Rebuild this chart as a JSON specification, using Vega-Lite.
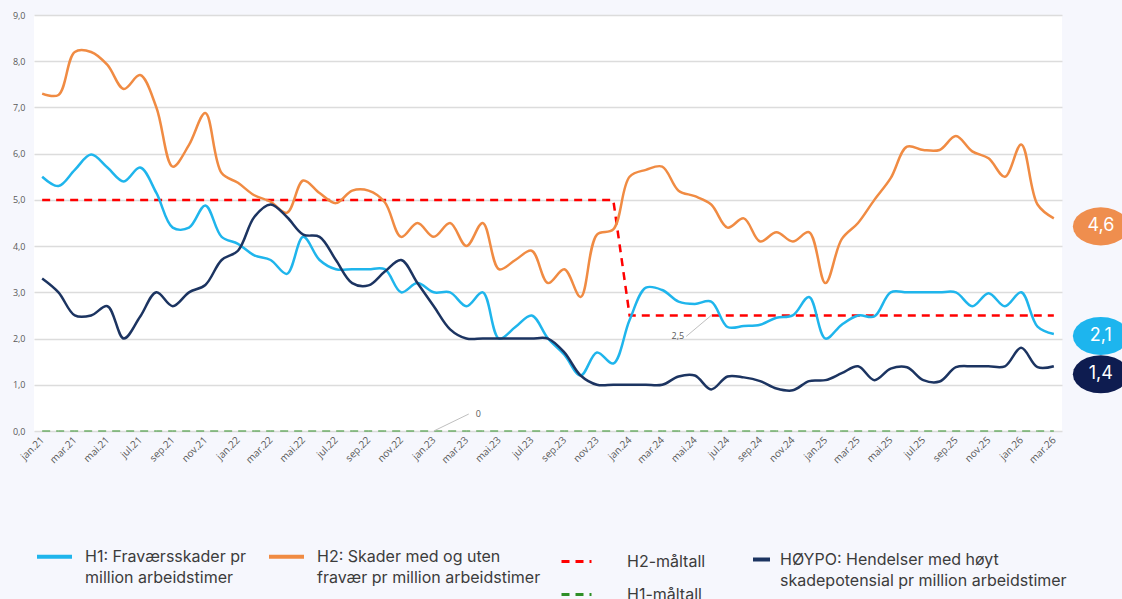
{
  "$schema": "https://vega.github.io/schema/vega-lite/v6.json",
  "width": 1028,
  "height": 416,
  "autosize": {"type": "none"},
  "padding": {"left": 34, "top": 15, "right": 60, "bottom": 168},
  "background": "#f6f7fd",
  "data": {"values": [
    {"m":"jan.21","H1":5.5,"H2":7.3,"HY":3.3,"H2m":5,"H1m":0},
    {"m":"feb.21","H1":5.3,"H2":7.27,"HY":3.0,"H2m":5,"H1m":0},
    {"m":"mar.21","H1":5.65,"H2":8.2,"HY":2.5,"H2m":5,"H1m":0},
    {"m":"apr.21","H1":5.98,"H2":8.2,"HY":2.5,"H2m":5,"H1m":0},
    {"m":"mai.21","H1":5.7,"H2":7.92,"HY":2.7,"H2m":5,"H1m":0},
    {"m":"jun.21","H1":5.4,"H2":7.4,"HY":2.0,"H2m":5,"H1m":0},
    {"m":"jul.21","H1":5.7,"H2":7.7,"HY":2.47,"H2m":5,"H1m":0},
    {"m":"aug.21","H1":5.15,"H2":7.0,"HY":3.0,"H2m":5,"H1m":0},
    {"m":"sep.21","H1":4.4,"H2":5.72,"HY":2.7,"H2m":5,"H1m":0},
    {"m":"okt.21","H1":4.4,"H2":6.19,"HY":3.0,"H2m":5,"H1m":0},
    {"m":"nov.21","H1":4.88,"H2":6.88,"HY":3.16,"H2m":5,"H1m":0},
    {"m":"des.21","H1":4.2,"H2":5.58,"HY":3.7,"H2m":5,"H1m":0},
    {"m":"jan.22","H1":4.05,"H2":5.37,"HY":3.9,"H2m":5,"H1m":0},
    {"m":"feb.22","H1":3.8,"H2":5.1,"HY":4.63,"H2m":5,"H1m":0},
    {"m":"mar.22","H1":3.7,"H2":4.96,"HY":4.9,"H2m":5,"H1m":0},
    {"m":"apr.22","H1":3.4,"H2":4.72,"HY":4.63,"H2m":5,"H1m":0},
    {"m":"mai.22","H1":4.2,"H2":5.42,"HY":4.25,"H2m":5,"H1m":0},
    {"m":"jun.22","H1":3.7,"H2":5.15,"HY":4.2,"H2m":5,"H1m":0},
    {"m":"jul.22","H1":3.5,"H2":4.93,"HY":3.7,"H2m":5,"H1m":0},
    {"m":"aug.22","H1":3.5,"H2":5.2,"HY":3.2,"H2m":5,"H1m":0},
    {"m":"sep.22","H1":3.5,"H2":5.2,"HY":3.15,"H2m":5,"H1m":0},
    {"m":"okt.22","H1":3.5,"H2":4.95,"HY":3.45,"H2m":5,"H1m":0},
    {"m":"nov.22","H1":3.0,"H2":4.2,"HY":3.7,"H2m":5,"H1m":0},
    {"m":"des.22","H1":3.2,"H2":4.5,"HY":3.2,"H2m":5,"H1m":0},
    {"m":"jan.23","H1":3.0,"H2":4.2,"HY":2.7,"H2m":5,"H1m":0},
    {"m":"feb.23","H1":3.0,"H2":4.5,"HY":2.2,"H2m":5,"H1m":0},
    {"m":"mar.23","H1":2.7,"H2":4.0,"HY":2.0,"H2m":5,"H1m":0},
    {"m":"apr.23","H1":3.0,"H2":4.5,"HY":2.0,"H2m":5,"H1m":0},
    {"m":"mai.23","H1":2.0,"H2":3.5,"HY":2.0,"H2m":5,"H1m":0},
    {"m":"jun.23","H1":2.25,"H2":3.7,"HY":2.0,"H2m":5,"H1m":0},
    {"m":"jul.23","H1":2.5,"H2":3.9,"HY":2.0,"H2m":5,"H1m":0},
    {"m":"aug.23","H1":2.0,"H2":3.2,"HY":2.0,"H2m":5,"H1m":0},
    {"m":"sep.23","H1":1.65,"H2":3.5,"HY":1.7,"H2m":5,"H1m":0},
    {"m":"okt.23","H1":1.2,"H2":2.9,"HY":1.2,"H2m":5,"H1m":0},
    {"m":"nov.23","H1":1.7,"H2":4.25,"HY":1.0,"H2m":5,"H1m":0},
    {"m":"des.23","H1":1.46,"H2":4.36,"HY":1.0,"H2m":5,"H1m":0},
    {"m":"jan.24","H1":2.4,"H2":5.5,"HY":1.0,"H2m":2.5,"H1m":0},
    {"m":"feb.24","H1":3.1,"H2":5.65,"HY":1.0,"H2m":2.5,"H1m":0},
    {"m":"mar.24","H1":3.05,"H2":5.72,"HY":1.0,"H2m":2.5,"H1m":0},
    {"m":"apr.24","H1":2.8,"H2":5.2,"HY":1.18,"H2m":2.5,"H1m":0},
    {"m":"mai.24","H1":2.75,"H2":5.08,"HY":1.2,"H2m":2.5,"H1m":0},
    {"m":"jun.24","H1":2.8,"H2":4.9,"HY":0.9,"H2m":2.5,"H1m":0},
    {"m":"jul.24","H1":2.25,"H2":4.4,"HY":1.18,"H2m":2.5,"H1m":0},
    {"m":"aug.24","H1":2.27,"H2":4.6,"HY":1.16,"H2m":2.5,"H1m":0},
    {"m":"sep.24","H1":2.3,"H2":4.1,"HY":1.08,"H2m":2.5,"H1m":0},
    {"m":"okt.24","H1":2.45,"H2":4.3,"HY":0.92,"H2m":2.5,"H1m":0},
    {"m":"nov.24","H1":2.5,"H2":4.1,"HY":0.88,"H2m":2.5,"H1m":0},
    {"m":"des.24","H1":2.9,"H2":4.3,"HY":1.08,"H2m":2.5,"H1m":0},
    {"m":"jan.25","H1":2.0,"H2":3.2,"HY":1.1,"H2m":2.5,"H1m":0},
    {"m":"feb.25","H1":2.3,"H2":4.15,"HY":1.25,"H2m":2.5,"H1m":0},
    {"m":"mar.25","H1":2.5,"H2":4.5,"HY":1.4,"H2m":2.5,"H1m":0},
    {"m":"apr.25","H1":2.48,"H2":5.0,"HY":1.1,"H2m":2.5,"H1m":0},
    {"m":"mai.25","H1":3.0,"H2":5.47,"HY":1.35,"H2m":2.5,"H1m":0},
    {"m":"jun.25","H1":3.0,"H2":6.15,"HY":1.38,"H2m":2.5,"H1m":0},
    {"m":"jul.25","H1":3.0,"H2":6.08,"HY":1.1,"H2m":2.5,"H1m":0},
    {"m":"aug.25","H1":3.0,"H2":6.08,"HY":1.07,"H2m":2.5,"H1m":0},
    {"m":"sep.25","H1":3.0,"H2":6.38,"HY":1.38,"H2m":2.5,"H1m":0},
    {"m":"okt.25","H1":2.7,"H2":6.05,"HY":1.4,"H2m":2.5,"H1m":0},
    {"m":"nov.25","H1":2.98,"H2":5.9,"HY":1.4,"H2m":2.5,"H1m":0},
    {"m":"des.25","H1":2.7,"H2":5.5,"HY":1.4,"H2m":2.5,"H1m":0},
    {"m":"jan.26","H1":3.0,"H2":6.2,"HY":1.8,"H2m":2.5,"H1m":0},
    {"m":"feb.26","H1":2.26,"H2":4.9,"HY":1.38,"H2m":2.5,"H1m":0},
    {"m":"mar.26","H1":2.1,"H2":4.6,"HY":1.4,"H2m":2.5,"H1m":0}
  ]},
  "encoding": {
    "x": {
      "field": "m", "type": "ordinal", "title": null,
      "scale": {"type": "point", "padding": 0.5, "domain": [
        "jan.21","feb.21","mar.21","apr.21","mai.21","jun.21","jul.21","aug.21","sep.21","okt.21","nov.21","des.21",
        "jan.22","feb.22","mar.22","apr.22","mai.22","jun.22","jul.22","aug.22","sep.22","okt.22","nov.22","des.22",
        "jan.23","feb.23","mar.23","apr.23","mai.23","jun.23","jul.23","aug.23","sep.23","okt.23","nov.23","des.23",
        "jan.24","feb.24","mar.24","apr.24","mai.24","jun.24","jul.24","aug.24","sep.24","okt.24","nov.24","des.24",
        "jan.25","feb.25","mar.25","apr.25","mai.25","jun.25","jul.25","aug.25","sep.25","okt.25","nov.25","des.25",
        "jan.26","feb.26","mar.26"]},
      "axis": {
        "values": ["jan.21","mar.21","mai.21","jul.21","sep.21","nov.21","jan.22","mar.22","mai.22","jul.22","sep.22","nov.22",
          "jan.23","mar.23","mai.23","jul.23","sep.23","nov.23","jan.24","mar.24","mai.24","jul.24","sep.24","nov.24",
          "jan.25","mar.25","mai.25","jul.25","sep.25","nov.25","jan.26","mar.26"],
        "labelAngle": -45, "labelAlign": "right", "labelBaseline": "middle", "labelPadding": 7, "labelFontSize": 10,
        "grid": false, "domain": false, "ticks": false
      }
    },
    "y": {
      "field": "v", "type": "quantitative", "title": null,
      "scale": {"domain": [0, 9], "nice": false, "zero": true},
      "axis": {"values": [0,1,2,3,4,5,6,7,8,9], "format": ".1f", "grid": true, "labelPadding": 9, "domain": false, "ticks": false}
    }
  },
  "layer": [
    {
      "transform": [{"fold": ["H1m"], "as": ["s2", "v"]}],
      "mark": {"type": "line", "strokeWidth": 1},
      "encoding": {
        "color": {"field": "s2", "type": "nominal",
          "scale": {"domain": ["H2m", "H1m"], "range": ["#ff0000", "#2f8f27"]},
          "legend": {"title": null, "orient": "none", "legendX": 526, "legendY": 530, "direction": "vertical",
            "labelOffset": 34, "symbolSize": 900, "symbolStrokeWidth": 3, "rowPadding": 8,
            "labelExpr": "datum.value === 'H2m' ? 'H2-måltall' : 'H1-måltall'"}},
        "strokeDash": {"field": "s2", "type": "nominal",
          "scale": {"domain": ["H2m", "H1m"], "range": [[8, 6], [8, 6]]},
          "legend": {"title": null, "orient": "none", "legendX": 526, "legendY": 530, "direction": "vertical",
            "labelOffset": 34, "symbolSize": 900, "symbolStrokeWidth": 3, "rowPadding": 8,
            "labelExpr": "datum.value === 'H2m' ? 'H2-måltall' : 'H1-måltall'"}}
      }
    },
    {
      "transform": [{"fold": ["H2m"], "as": ["s2", "v"]}],
      "mark": {"type": "line", "strokeWidth": 2.5},
      "encoding": {
        "color": {"field": "s2", "type": "nominal",
          "legend": {"title": null, "orient": "none", "legendX": 526, "legendY": 530, "direction": "vertical",
            "labelOffset": 34, "symbolSize": 900, "symbolStrokeWidth": 3, "rowPadding": 8,
            "labelExpr": "datum.value === 'H2m' ? 'H2-måltall' : 'H1-måltall'"}},
        "strokeDash": {"field": "s2", "type": "nominal",
          "legend": {"title": null, "orient": "none", "legendX": 526, "legendY": 530, "direction": "vertical",
            "labelOffset": 34, "symbolSize": 900, "symbolStrokeWidth": 3, "rowPadding": 8,
            "labelExpr": "datum.value === 'H2m' ? 'H2-måltall' : 'H1-måltall'"}}
      }
    },
    {
      "transform": [{"fold": ["H2", "H1"], "as": ["s1", "v"]}],
      "mark": {"type": "line", "interpolate": "catmull-rom", "strokeWidth": 2.5},
      "encoding": {
        "stroke": {"field": "s1", "type": "nominal",
          "scale": {"domain": ["H1", "H2"], "range": ["#1fb5ec", "#f08b43"]},
          "legend": {"title": null, "orient": "none", "legendX": 1, "legendY": 522, "direction": "horizontal", "columns": 2,
            "columnPadding": 15, "labelOffset": 11, "symbolSize": 1225,
            "labelExpr": "datum.value === 'H1' ? ['H1: Fraværsskader pr', 'million arbeidstimer'] : ['H2: Skader med og uten', 'fravær pr million arbeidstimer']"}
        }
      }
    },
    {
      "transform": [{"fold": ["HY"], "as": ["s3", "v"]}],
      "mark": {"type": "line", "interpolate": "catmull-rom", "strokeWidth": 2.5, "color": "#1c3461"},
      "encoding": {}
    },
    {
      "transform": [{"filter": "datum.m === 'jun.24'"}],
      "mark": {"type": "rule", "color": "#bfbfbf", "strokeWidth": 1, "x2Offset": -25, "y2Offset": 21},
      "encoding": {"y": {"field": "H2m", "type": "quantitative"}, "x2": {"field": "m"}, "y2": {"field": "H2m"}}
    },
    {
      "transform": [{"filter": "datum.m === 'jun.24'"}],
      "mark": {"type": "text", "dx": -27, "dy": 21, "align": "right", "baseline": "middle", "fontSize": 9, "color": "#595959", "font": "Open Sans"},
      "encoding": {"y": {"field": "H2m", "type": "quantitative"}, "text": {"field": "H2m", "format": ".1f"}}
    },
    {
      "transform": [{"filter": "datum.m === 'jan.23'"}],
      "mark": {"type": "rule", "color": "#bfbfbf", "strokeWidth": 1, "x2Offset": 35, "y2Offset": -17},
      "encoding": {"y": {"field": "H1m", "type": "quantitative"}, "x2": {"field": "m"}, "y2": {"field": "H1m"}}
    },
    {
      "transform": [{"filter": "datum.m === 'jan.23'"}],
      "mark": {"type": "text", "dx": 42, "dy": -17, "align": "left", "baseline": "middle", "fontSize": 9, "color": "#595959", "font": "Open Sans"},
      "encoding": {"y": {"field": "H1m", "type": "quantitative"}, "text": {"field": "H1m", "format": ".0f"}}
    },
    {
      "transform": [{"filter": "datum.m === 'mar.26'"}, {"fold": ["H2", "H1", "HY"], "as": ["s4", "v"]}],
      "mark": {"type": "point", "filled": true, "opacity": 1, "strokeWidth": 0, "size": 3136, "xOffset": 47,
        "yOffset": {"expr": "datum.s4 === 'H1' ? 2 : 8"},
        "shape": "M1,0L0.966,0.176L0.866,0.34L0.707,0.481L0.5,0.589L0.259,0.657L0,0.68L-0.259,0.657L-0.5,0.589L-0.707,0.481L-0.866,0.34L-0.966,0.176L-1,0L-0.966,-0.176L-0.866,-0.34L-0.707,-0.481L-0.5,-0.589L-0.259,-0.657L0,-0.68L0.259,-0.657L0.5,-0.589L0.707,-0.481L0.866,-0.34L0.966,-0.176Z"},
      "encoding": {
        "fill": {"field": "s4", "type": "nominal",
          "scale": {"domain": ["H1", "H2", "HY"], "range": ["#1db5ee", "#ef8e4e", "#0e1c50"]},
          "legend": {"title": null, "orient": "none", "legendX": 717, "legendY": 534, "values": ["HY"],
            "symbolType": "stroke", "symbolStrokeColor": "#1c3461", "symbolStrokeWidth": 4, "symbolOpacity": 1,
            "labelOffset": 8, "symbolSize": 289,
            "labelExpr": "['HØYPO: Hendelser med høyt', 'skadepotensial pr million arbeidstimer']"}
        }
      }
    },
    {
      "transform": [{"filter": "datum.m === 'mar.26'"}, {"fold": ["H2", "H1", "HY"], "as": ["s4", "v"]}],
      "mark": {"type": "text", "color": "white", "fontSize": 18, "font": "Inter", "align": "center", "baseline": "middle", "xOffset": 47,
        "yOffset": {"expr": "datum.s4 === 'H1' ? 2 : 8"}},
      "encoding": {"text": {"field": "v", "format": ".1f"}}
    }
  ],
  "config": {
    "locale": {"number": {"decimal": ",", "thousands": " ", "grouping": [3], "currency": ["", " kr"]}},
    "view": {"fill": "white", "stroke": null},
    "axis": {"labelFont": "Open Sans", "labelFontSize": 9, "labelColor": "#595959", "gridColor": "#dcdcdc", "gridWidth": 1.5},
    "legend": {"labelFont": "Inter", "labelFontSize": 16, "labelColor": "#3c3c3c", "labelLimit": 600, "symbolType": "stroke", "symbolStrokeWidth": 4, "padding": 0},
    "style": {"guide-label": {"lineHeight": 21}}
  }
}
